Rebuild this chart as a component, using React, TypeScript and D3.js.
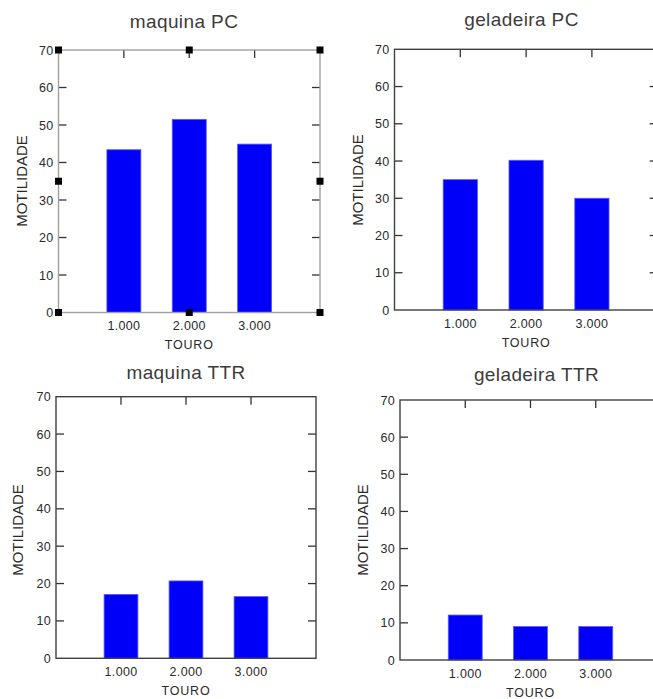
import React from "react";
import * as d3 from "d3";

const categories = [1, 2, 3];
const xTickLabels = ["1.000", "2.000", "3.000"];
const yTicks = [0, 10, 20, 30, 40, 50, 60, 70];
const maquinaPC = [43.4, 51.5, 44.9];
const geladeiraPC = [35, 40.2, 30];
const maquinaTTR = [17.1, 20.7, 16.5];
const geladeiraTTR = [12.1, 9, 9];
const titles = ["maquina PC", "geladeira PC", "maquina TTR", "geladeira TTR"];
const xAxisLabel = "TOURO";
const yAxisLabel = "MOTILIDADE";

type Layout = {
  x0: number; x1: number; top: number; bottom: number;
  tx: number; ty: number; lx: number; ly: number; selected: boolean;
};

const layouts: Layout[] = [
  { x0: 58.5, x1: 320, top: 50, bottom: 312.5, tx: 184, ty: 28, lx: 22, ly: 181, selected: true },
  { x0: 394.5, x1: 657.7, top: 49.3, bottom: 310, tx: 521.5, ty: 26, lx: 358, ly: 180, selected: false },
  { x0: 56, x1: 316, top: 396.7, bottom: 658.3, tx: 186, ty: 379, lx: 18, ly: 530, selected: false },
  { x0: 400, x1: 661, top: 400, bottom: 660, tx: 536.5, ty: 381, lx: 363, ly: 530, selected: false },
];

const FONT = "Arial, 'Liberation Sans', sans-serif";

function Panel({ values, title, L }: { values: number[]; title: string; L: Layout }) {
  const x = d3.scaleLinear().domain([0, 4]).range([L.x0, L.x1]);
  const y = d3.scaleLinear().domain([0, 70]).range([L.bottom, L.top]);
  const half = 0.26;
  const tickLen = 8;
  const tickColor = "#333";
  const frameColor = L.selected ? "#a0a0a0" : "#404040";
  const handles: [number, number][] = L.selected
    ? [
        [L.x0, L.top], [(L.x0 + L.x1) / 2, L.top], [L.x1, L.top],
        [L.x0, (L.top + L.bottom) / 2], [L.x1, (L.top + L.bottom) / 2],
        [L.x0, L.bottom], [(L.x0 + L.x1) / 2, L.bottom], [L.x1, L.bottom],
      ]
    : [];
  return (
    <g>
      <text x={L.tx} y={L.ty} textAnchor="middle" fontFamily={FONT} fontSize={19} fontWeight={400} letterSpacing={0.4} fill="#3c3c3c">
        {title}
      </text>
      {yTicks.slice(1, -1).map((t) => (
        <g key={"yt" + t}>
          <line x1={L.x0} x2={L.x0 + tickLen} y1={y(t)} y2={y(t)} stroke={tickColor} strokeWidth={1.3} />
          <line x1={L.x1 - tickLen} x2={L.x1} y1={y(t)} y2={y(t)} stroke={tickColor} strokeWidth={1.3} />
        </g>
      ))}
      {categories.map((c) => (
        <g key={"xt" + c}>
          <line x1={x(c)} x2={x(c)} y1={L.top} y2={L.top + tickLen} stroke={tickColor} strokeWidth={1.3} />
          <line x1={x(c)} x2={x(c)} y1={L.bottom} y2={L.bottom - tickLen} stroke={tickColor} strokeWidth={1.3} />
        </g>
      ))}
      {categories.map((c, i) => (
        <rect
          key={"b" + c}
          x={x(c - half)}
          y={y(values[i])}
          width={x(c + half) - x(c - half)}
          height={y(0) - y(values[i])}
          fill="#0000fa"
          stroke="#5858ff"
          strokeWidth={0.8}
        />
      ))}
      <rect x={L.x0} y={L.top} width={L.x1 - L.x0} height={L.bottom - L.top} fill="none" stroke={frameColor} strokeWidth={1.4} />
      {yTicks.map((t) => (
        <text key={"yl" + t} x={L.x0 - 5} y={y(t)} dy="0.36em" textAnchor="end" fontFamily={FONT} fontSize={12.5} letterSpacing={0.3} fill="#2a2a2a">
          {t}
        </text>
      ))}
      {categories.map((c, i) => (
        <text key={"xl" + c} x={x(c)} y={L.bottom + 13} dy="0.36em" textAnchor="middle" fontFamily={FONT} fontSize={12.5} letterSpacing={0.3} fill="#2a2a2a">
          {xTickLabels[i]}
        </text>
      ))}
      <text x={x(2)} y={L.bottom + 32} dy="0.36em" textAnchor="middle" fontFamily={FONT} fontSize={12.5} letterSpacing={0.8} fill="#2a2a2a">
        {xAxisLabel}
      </text>
      <text
        transform={`translate(${L.lx},${L.ly}) rotate(-90)`}
        dy="0.36em"
        textAnchor="middle"
        fontFamily={FONT}
        fontSize={15}
        fill="#2a2a2a"
      >
        {yAxisLabel}
      </text>
      {handles.map(([hx, hy], k) => (
        <rect key={"h" + k} x={hx - 3.5} y={hy - 3.5} width={7} height={7} fill="#000" />
      ))}
    </g>
  );
}

export default function App() {
  const series = [maquinaPC, geladeiraPC, maquinaTTR, geladeiraTTR];
  return (
    <svg
      width={653}
      height={699}
      style={{ position: "absolute", left: 0, top: 0, background: "#fff" }}
    >
      <rect x={0} y={0} width={653} height={699} fill="#fff" />
      {series.map((s, i) => (
        <Panel key={i} values={s} title={titles[i]} L={layouts[i]} />
      ))}
    </svg>
  );
}
